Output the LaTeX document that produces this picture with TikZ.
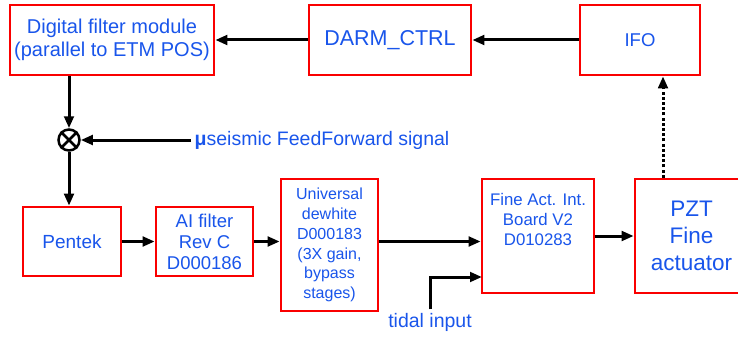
\documentclass[tikz,border=0pt]{standalone}
\usepackage{fontspec}
\setmainfont{Liberation Sans}
\usetikzlibrary{arrows.meta,positioning}
\definecolor{boxred}{RGB}{250,0,0}
\definecolor{txtblue}{RGB}{25,85,235}

\begin{document}
\begin{tikzpicture}[x=1pt, y=-1pt,
  every node/.style={text=txtblue, font=\fontsize{18.5}{21}\selectfont},
  block/.style={draw=boxred, line width=2.6pt, fill=white, align=center, inner sep=2pt},
  sig/.style={-{Triangle[length=12pt,width=9.5pt]}, line width=3pt},
  dotsig/.style={sig, dash pattern=on 3pt off 2.2pt},
  sumpt/.style={draw, circle, line width=2.5pt, minimum size=21pt, inner sep=0pt}
]
\useasboundingbox (0,0) rectangle (738,337);

\node[block, minimum width=204pt, minimum height=70pt,
  font=\fontsize{20}{22.5}\selectfont] (dfm) at (112,40)
  {Digital filter module\\(parallel to ETM POS)};
\node[block, minimum width=162pt, minimum height=70pt,
  font=\fontsize{21.5}{24}\selectfont] (darm) at (390,40) {DARM\_CTRL};
\node[block, minimum width=120pt, minimum height=70pt] (ifo) at (640,40) {IFO};

\node[sumpt] (sum) at (69,140) {};
\draw[line width=2.5pt] (sum.north west) -- (sum.south east)
  (sum.north east) -- (sum.south west);
\node[font=\fontsize{19.5}{22}\selectfont] (ffsig) at (322,140)
  {\textbf{μ}seismic FeedForward signal};

\node[block, minimum width=98pt, minimum height=69pt,
  font=\fontsize{19}{22}\selectfont] (pentek) at (72,241.5) {Pentek};
\node[block, minimum width=97pt, minimum height=69pt] (aifilt) at (204.5,241.5)
  {AI filter\\Rev C\\D000186};
\node[block, minimum width=97pt, minimum height=132pt,
  font=\fontsize{16}{19.8}\selectfont] (dewhite) at (329.5,245)
  {Universal\\dewhite\\D000183\\(3X gain,\\bypass\\stages)};
\node[block, minimum width=112pt, minimum height=114pt,
  font=\fontsize{16.8}{20}\selectfont] (fineact) at (538,236)
  {Fine Act. Int.\\Board V2\\D010283\\[14pt]};
\node[block, minimum width=113pt, minimum height=114pt,
  font=\fontsize{22.5}{27}\selectfont] (pzt) at (691.5,236)
  {PZT\\Fine\\actuator};
\node[font=\fontsize{19.5}{22}\selectfont] (tidal) at (430,322) {tidal input};
\coordinate (tidalin) at (482,277);

\draw[sig] (ifo) -- (darm);
\draw[sig] (darm) -- (dfm);
\draw[sig] (dfm.south -| sum) -- (sum);
\draw[sig] (ffsig.west) -- (sum);
\draw[sig] (sum) -- (sum |- pentek.north);
\draw[sig] (pentek) -- (aifilt);
\draw[sig] (aifilt.east) -- (aifilt.east -| dewhite.west);
\draw[sig] (dewhite.east |- aifilt) -- (fineact.west |- aifilt);
\draw[sig] (tidal.north) |- (tidalin);
\draw[sig] (fineact) -- (pzt);
\draw[dotsig] ([xshift=23pt]ifo.south |- pzt.north) -- ([xshift=23pt]ifo.south);

\end{tikzpicture}
\end{document}
